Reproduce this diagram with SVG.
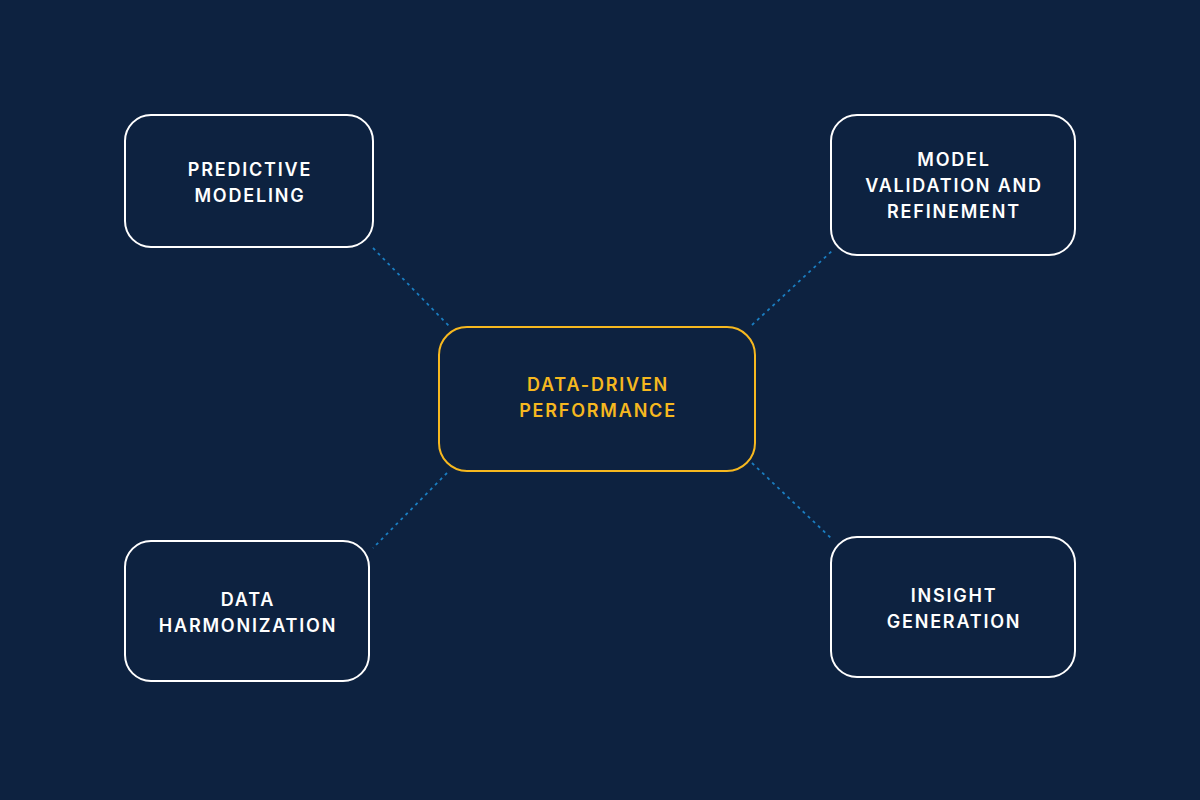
<svg xmlns="http://www.w3.org/2000/svg" width="1200" height="800" viewBox="0 0 1200 800">
<style>
.bg{fill:#0d2240}
.box{fill:#0d2240;stroke:#ffffff;stroke-width:2}
.hub{fill:#0d2240;stroke:#f6b81f;stroke-width:2}
.lbl{font-family:Inter,"Noto Sans",sans-serif;font-size:18px;font-weight:600;letter-spacing:1.8px;fill:#ffffff;text-anchor:middle}
.hubl{fill:#f6b81f}
.con{stroke:#1a7dc0;stroke-width:1.8;stroke-dasharray:3 4;fill:none}
</style>
<rect class="bg" x="0" y="0" width="1200" height="800"/>
<g id="connectors">
<line class="con" x1="373" y1="248" x2="449" y2="326"/>
<line class="con" x1="752" y1="325" x2="833" y2="250"/>
<line class="con" x1="447" y1="473" x2="373" y2="548"/>
<line class="con" x1="752" y1="463" x2="833" y2="540"/>
</g>
<g id="hub">
<rect class="hub" x="439" y="327" width="316" height="144" rx="28"/>
<text class="lbl hubl" x="598" y="391">DATA-DRIVEN</text>
<text class="lbl hubl" x="598" y="417">PERFORMANCE</text>
</g>
<g id="predictive">
<rect class="box" x="125" y="115" width="248" height="132" rx="26"/>
<text class="lbl" x="250" y="176">PREDICTIVE</text>
<text class="lbl" x="250" y="202">MODELING</text>
</g>
<g id="validation">
<rect class="box" x="831" y="115" width="244" height="140" rx="26"/>
<text class="lbl" x="954" y="166">MODEL</text>
<text class="lbl" x="954" y="192">VALIDATION AND</text>
<text class="lbl" x="954" y="218">REFINEMENT</text>
</g>
<g id="harmonization">
<rect class="box" x="125" y="541" width="244" height="140" rx="26"/>
<text class="lbl" x="248" y="606">DATA</text>
<text class="lbl" x="248" y="632">HARMONIZATION</text>
</g>
<g id="insight">
<rect class="box" x="831" y="537" width="244" height="140" rx="26"/>
<text class="lbl" x="954" y="602">INSIGHT</text>
<text class="lbl" x="954" y="628">GENERATION</text>
</g>
</svg>
